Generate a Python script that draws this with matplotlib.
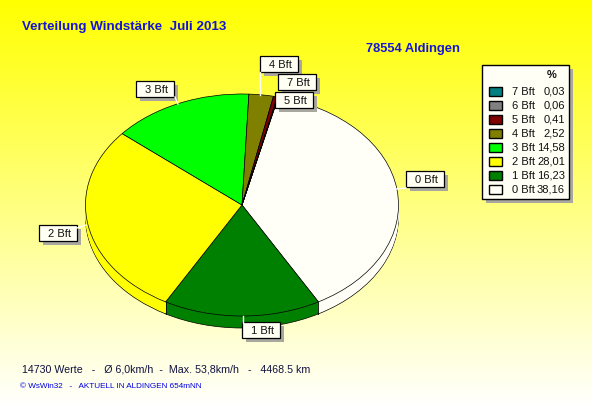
import numpy as np
import matplotlib
matplotlib.use("Agg")
import matplotlib.pyplot as plt
from matplotlib.patches import Rectangle

plt.rcParams['font.family'] = ['Liberation Sans', 'DejaVu Sans']

W, H = 592, 408

# pie order, clockwise
classes = ['0 Bft', '1 Bft', '2 Bft', '3 Bft', '4 Bft', '5 Bft', '6 Bft', '7 Bft']
percent = [38.16, 16.23, 28.01, 14.58, 2.52, 0.41, 0.06, 0.03]
percent_text = ['38,16', '16,23', '28,01', '14,58', '2,52', '0,41', '0,06', '0,03']
colors = ['#fffff8', '#008000', '#ffff00', '#00ff00', '#808000', '#800000', '#808080', '#008080']

title = 'Verteilung Windstärke  Juli 2013'
station = '78554 Aldingen'
stats = '14730 Werte   -   Ø 6,0km/h  -  Max. 53,8km/h   -   4468.5 km'
credit = '© WsWin32   -   AKTUELL IN ALDINGEN 654mNN'

# label boxes: x0, y0 in pixels
label_names = ['3 Bft', '4 Bft', '7 Bft', '5 Bft', '0 Bft', '2 Bft', '1 Bft']
label_x = [136, 260, 278, 275, 406, 39, 242]
label_y = [81, 56, 74, 92, 171, 225, 322]

fig = plt.figure(figsize=(W / 100, H / 100), dpi=100)

# whole figure in pixel coordinates
bg = fig.add_axes([0, 0, 1, 1])
bg.axis('off')
grad = np.ones((256, 1, 3))
grad[:, 0, 2] = np.linspace(0, 1, 256)
bg.imshow(grad, extent=[0, W, H, 0], aspect='auto', zorder=0)
bg.set_xlim(0, W)
bg.set_ylim(H, 0)

# pie axes is the ellipse's bounding box, so a unit pie comes out squashed
left, right, top, bottom = 85.5, 398.5, 94, 316
rx, ry = (right - left) / 2, (bottom - top) / 2
depth = 12
start = 90 - 13.4
edge = dict(edgecolor='black', linewidth=0.5)

pie_ax = fig.add_axes([left / W, 1 - bottom / H, (right - left) / W, (bottom - top) / H])
pie_ax.patch.set_alpha(0)
pie_ax.set_zorder(1)

for d in range(depth, 0, -1):
    props = edge if d == depth else dict(linewidth=0)
    wedges, _ = pie_ax.pie(percent, colors=colors, startangle=start, counterclock=False,
                           center=(0, -d / ry), radius=1, wedgeprops=props)
    for w in wedges:
        w.set_clip_on(False)
wedges, _ = pie_ax.pie(percent, colors=colors, startangle=start, counterclock=False,
                       center=(0, 0), radius=1, wedgeprops=edge)
for w in wedges:
    w.set_clip_on(False)
pie_ax.set_aspect('auto')
pie_ax.set_xlim(-1, 1)
pie_ax.set_ylim(-1, 1)

# vertical edges of the wall where front slices meet
bounds = start - np.cumsum(percent) * 3.6
for a in np.radians(bounds):
    if np.sin(a) < 0:
        pie_ax.plot([np.cos(a)] * 2, [np.sin(a), np.sin(a) - depth / ry], color='black',
                    lw=0.6, clip_on=False)

# everything that sits on top of the pie
fg = fig.add_axes([0, 0, 1, 1])
fg.set_xlim(0, W)
fg.set_ylim(H, 0)
fg.axis('off')
fg.set_zorder(2)

fg.text(22, 27, title, color='#1414d8', fontsize=9.6, fontweight='bold', va='center')
fg.text(366, 49, station, color='#1414d8', fontsize=9.3, fontweight='bold', va='center')
fg.text(22, 370, stats, color='#101040', fontsize=7.7, va='center')
fg.text(20, 387, credit, color='#0000e0', fontsize=5.85, va='center')

# leader lines
leader_x = [(260, 260), (242.5, 242.5), (175, 178), (396, 406), (77, 86)]
leader_y = [(72, 95), (316, 323), (97, 104), (189, 188), (228, 225)]
for lx, ly in zip(leader_x, leader_y):
    fg.plot(lx, ly, color='white', lw=1)


def label_box(x, y, text, w=38, h=16):
    fg.add_patch(Rectangle((x + 4, y + 4), w, h, fc='#a8a8a0', ec='none'))
    fg.add_patch(Rectangle((x, y), w, h, fc='#fffff4', ec='black', lw=0.9))
    fg.text(x + w / 2 + 1.5, y + h / 2 + 1, text, fontsize=8, ha='center', va='center', color='#101010')


for name, x, y in zip(label_names, label_x, label_y):
    label_box(x, y, name)

# legend, top row is the last class
fg.add_patch(Rectangle((486, 69), 87, 134, fc='#a8a8a0', ec='none'))
fg.add_patch(Rectangle((482, 65), 87, 134, fc='#fffff6', ec='black', lw=1))
fg.text(552, 75, '%', fontsize=8, fontweight='bold', ha='center', va='center', color='#101010')
for i in range(len(classes)):
    k = len(classes) - 1 - i
    y = 91 + i * 14
    fg.add_patch(Rectangle((488.5, y - 4.5), 13, 9, fc=colors[k], ec='black', lw=1))
    fg.text(512, y + 1, classes[k], fontsize=8, va='center', color='#101010')
    fg.text(565, y + 1, percent_text[k], fontsize=8, ha='right', va='center', color='#101010')

fig.savefig('out.png', dpi=100)
